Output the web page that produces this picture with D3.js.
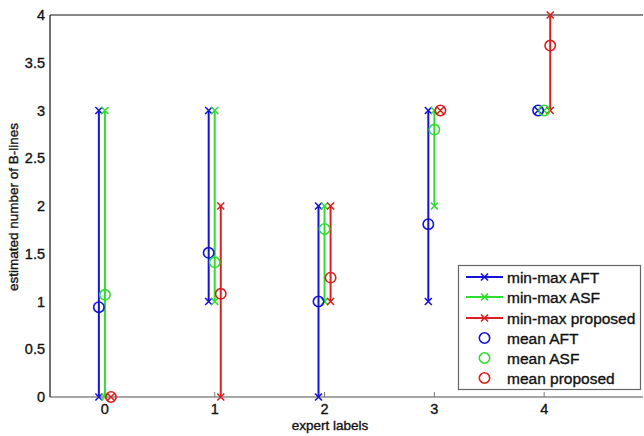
<!DOCTYPE html>
<html>
<head>
<meta charset="utf-8">
<script src="https://cdn.jsdelivr.net/npm/d3@7"></script>
<style>
  body { margin: 0; background: #fff; }
  text { font-family: "Liberation Sans", Arial, sans-serif; fill: #111; stroke: #111; stroke-width: 0.35px; }
</style>
</head>
<body>
<script>
var categories = [0, 1, 2, 3, 4];

var aftMin = [0, 1, 0, 1, 3],
    aftMax = [3, 3, 2, 3, 3],
    aftMean = [0.94, 1.51, 1.0, 1.81, 3.0];

var asfMin = [0, 1, 1, 2, 3],
    asfMax = [3, 3, 2, 3, 3],
    asfMean = [1.07, 1.41, 1.76, 2.8, 3.0];

var propMin = [0, 0, 1, 3, 3],
    propMax = [0, 2, 2, 3, 4],
    propMean = [0, 1.08, 1.25, 3.0, 3.68];

var yTicks = [0, 0.5, 1, 1.5, 2, 2.5, 3, 3.5, 4];

var width = 644, height = 436;

var svg = d3.select("body").append("svg")
    .attr("width", width)
    .attr("height", height);

var xScale = d3.scaleLinear()
    .domain([-0.5, 4.9])
    .range([50, 643]);

var yScale = d3.scaleLinear()
    .domain([0, 4])
    .range([397, 15]);

// series: color, offset along x
var series = [
    { name: "AFT", color: "#1414d8", off: -0.055, min: aftMin, max: aftMax, mean: aftMean },
    { name: "ASF", color: "#2ede2e", off: 0, min: asfMin, max: asfMax, mean: asfMean },
    { name: "proposed", color: "#dc2020", off: 0.055, min: propMin, max: propMax, mean: propMean }
];

// axes
svg.append("line")
    .attr("x1", xScale(-0.5)).attr("x2", 643)
    .attr("y1", yScale(4)).attr("y2", yScale(4))
    .attr("stroke", "#111").attr("stroke-width", 1.2);

svg.append("line")
    .attr("x1", xScale(-0.5)).attr("x2", 643)
    .attr("y1", yScale(0)).attr("y2", yScale(0))
    .attr("stroke", "#888").attr("stroke-width", 1.5);

svg.append("line")
    .attr("x1", xScale(-0.5)).attr("x2", xScale(-0.5))
    .attr("y1", yScale(0)).attr("y2", yScale(4))
    .attr("stroke", "#111").attr("stroke-width", 1.2);

svg.selectAll(".xtick")
    .data(categories)
    .enter().append("line")
    .attr("x1", function (d) { return xScale(d); })
    .attr("x2", function (d) { return xScale(d); })
    .attr("y1", yScale(0))
    .attr("y2", yScale(0) - 5)
    .attr("stroke", "#777");

svg.selectAll(".xlabel")
    .data(categories)
    .enter().append("text")
    .attr("x", function (d) { return xScale(d); })
    .attr("y", 414)
    .attr("text-anchor", "middle")
    .attr("font-size", 14.5)
    .text(function (d) { return d; });

svg.selectAll(".ylabel")
    .data(yTicks)
    .enter().append("text")
    .attr("x", 45)
    .attr("y", function (d) { return yScale(d) + 5; })
    .attr("text-anchor", "end")
    .attr("font-size", 14.5)
    .text(function (d) { return d; });

svg.append("text")
    .attr("x", 330).attr("y", 430)
    .attr("text-anchor", "middle")
    .attr("font-size", 13.5)
    .text("expert labels");

svg.append("text")
    .attr("transform", "translate(18,207) rotate(-90)")
    .attr("text-anchor", "middle")
    .attr("font-size", 13.5)
    .text("estimated number of B-lines");

// cross marker path
function cross(x, y, s) {
    return "M" + (x - s) + "," + (y - s) + "L" + (x + s) + "," + (y + s) +
        "M" + (x - s) + "," + (y + s) + "L" + (x + s) + "," + (y - s);
}

// min-max lines with x markers
series.forEach(function (s) {
    var g = svg.append("g");
    categories.forEach(function (c, i) {
        var x = xScale(c + s.off);
        g.append("line")
            .attr("x1", x).attr("x2", x)
            .attr("y1", yScale(s.min[i])).attr("y2", yScale(s.max[i]))
            .attr("stroke", s.color).attr("stroke-width", 2);
        g.append("path")
            .attr("d", cross(x, yScale(s.min[i]), 3.5) + cross(x, yScale(s.max[i]), 3.5))
            .attr("stroke", s.color).attr("stroke-width", 1.6).attr("fill", "none");
    });
});

// means
series.forEach(function (s) {
    svg.append("g").selectAll("circle")
        .data(categories)
        .enter().append("circle")
        .attr("cx", function (d) { return xScale(d + s.off); })
        .attr("cy", function (d, i) { return yScale(s.mean[i]); })
        .attr("r", 5.2)
        .attr("fill", "none")
        .attr("stroke", s.color)
        .attr("stroke-width", 1.6);
});

// legend
var legend = svg.append("g");
legend.append("rect")
    .attr("x", 458.5).attr("y", 265.5)
    .attr("width", 182).attr("height", 124)
    .attr("fill", "#fff")
    .attr("stroke", "#666").attr("stroke-width", 1.2);

var rowY = [277, 297, 318, 338, 358, 378];

series.forEach(function (s, i) {
    var y = rowY[i];
    legend.append("line")
        .attr("x1", 466).attr("x2", 503)
        .attr("y1", y).attr("y2", y)
        .attr("stroke", s.color).attr("stroke-width", 2);
    legend.append("path")
        .attr("d", cross(484.5, y, 3.5))
        .attr("stroke", s.color).attr("stroke-width", 1.6).attr("fill", "none");
    legend.append("text")
        .attr("x", 507).attr("y", y + 5.5)
        .attr("font-size", 15.5)
        .text("min-max " + s.name);
});

series.forEach(function (s, i) {
    var y = rowY[i + 3];
    legend.append("circle")
        .attr("cx", 484.5).attr("cy", y).attr("r", 5.2)
        .attr("fill", "none")
        .attr("stroke", s.color).attr("stroke-width", 1.6);
    legend.append("text")
        .attr("x", 507).attr("y", y + 5.5)
        .attr("font-size", 15.5)
        .text("mean " + s.name);
});
</script>
</body>
</html>
